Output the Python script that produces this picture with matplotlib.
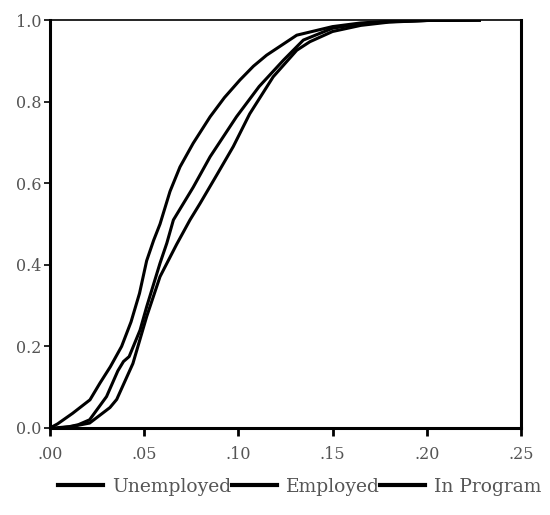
import matplotlib.pyplot as plt

unemp_x = [0.0, 0.004, 0.012, 0.0212, 0.0265, 0.032, 0.038, 0.043, 0.0475, 0.0513,
           0.055, 0.0584, 0.0637, 0.069, 0.076, 0.085, 0.0926, 0.1008, 0.108, 0.115,
           0.131, 0.150, 0.165, 0.180, 0.200, 0.228]
unemp_y = [0.0, 0.01, 0.036, 0.069, 0.11, 0.15, 0.20, 0.26, 0.33, 0.41,
           0.46, 0.50, 0.58, 0.64, 0.698, 0.763, 0.81, 0.853, 0.887, 0.914,
           0.963, 0.984, 0.993, 0.997, 0.999, 1.0]

emp_x = [0.002, 0.010, 0.015, 0.021, 0.030, 0.036, 0.039, 0.042, 0.0478, 0.0513,
         0.0584, 0.062, 0.0655, 0.076, 0.085, 0.099, 0.111, 0.124, 0.1345, 0.150,
         0.165, 0.180, 0.200, 0.228]
emp_y = [0.0, 0.003, 0.008, 0.02, 0.077, 0.14, 0.163, 0.175, 0.24, 0.297,
         0.404, 0.453, 0.51, 0.59, 0.665, 0.763, 0.837, 0.902, 0.951, 0.98,
         0.991, 0.996, 0.999, 1.0]

prog_x = [0.005, 0.012, 0.021, 0.0318, 0.0354, 0.044, 0.0513, 0.0584, 0.0672, 0.0743,
          0.0796, 0.0885, 0.0973, 0.106, 0.1185, 0.131, 0.138, 0.150, 0.165, 0.180,
          0.200, 0.228]
prog_y = [0.0, 0.004, 0.012, 0.05, 0.07, 0.158, 0.273, 0.371, 0.45, 0.51,
          0.55, 0.62, 0.69, 0.77, 0.861, 0.926, 0.947, 0.972, 0.987, 0.995,
          0.999, 1.0]

labels = ["Unemployed", "Employed", "In Program"]
x_ticks = [0.0, 0.05, 0.10, 0.15, 0.20, 0.25]
x_ticklabels = [".00", ".05", ".10", ".15", ".20", ".25"]
y_ticks = [0.0, 0.2, 0.4, 0.6, 0.8, 1.0]
y_ticklabels = ["0.0", "0.2", "0.4", "0.6", "0.8", "1.0"]

plt.rcParams["font.family"] = ["DejaVu Serif"]
txt_color = "#555555"

fig = plt.figure(figsize=(5.5, 5.15), dpi=100)
ax = fig.add_axes([0.091, 0.169, 0.856, 0.792])

for xs, ys, lab in zip([unemp_x, emp_x, prog_x], [unemp_y, emp_y, prog_y], labels):
    ax.plot(xs, ys, color="black", lw=2.2, label=lab)

ax.set_xlim(0, 0.25)
ax.set_ylim(0, 1.0)
ax.set_xticks(x_ticks)
ax.set_xticklabels(x_ticklabels)
ax.set_yticks(y_ticks)
ax.set_yticklabels(y_ticklabels)

for side in ["left", "bottom", "right"]:
    ax.spines[side].set_linewidth(2.2)
ax.spines["top"].set_linewidth(1.2)

ax.tick_params(axis="x", length=6, width=2, pad=7, labelsize=11.5, labelcolor=txt_color)
ax.tick_params(axis="y", length=4, width=1.2, pad=2, labelsize=11.5, labelcolor=txt_color)

leg = fig.legend(loc="lower center", bbox_to_anchor=(0.545, 0.005), ncol=3,
                 frameon=False, fontsize=13.5, handlelength=2.4, handletextpad=0.5,
                 columnspacing=0.0)
for line in leg.get_lines():
    line.set_linewidth(3)
for t in leg.get_texts():
    t.set_color(txt_color)

fig.savefig("out.png", dpi=100)
